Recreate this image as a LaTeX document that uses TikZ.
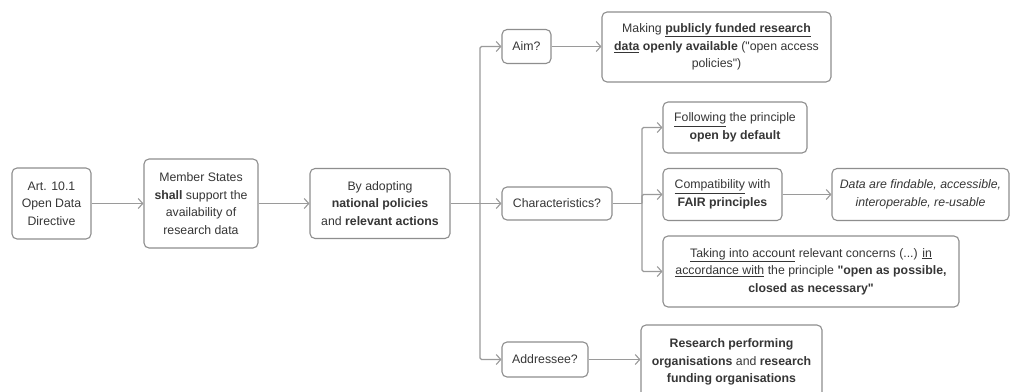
\documentclass[tikz,border=0pt]{standalone}
\usepackage{fontspec}
\setmainfont{Liberation Sans}
\usetikzlibrary{arrows.meta}
\definecolor{bordergray}{HTML}{8E8E8E}
\definecolor{linegray}{HTML}{9A9A9A}
\definecolor{textgray}{HTML}{363636}
\newcommand{\dq}{\textquotedbl}
\begin{document}
\begin{tikzpicture}[x=1pt,y=-1pt,
  box/.style={draw=bordergray, rounded corners=5pt, line width=1.1pt, fill=white,
    align=center, inner sep=0pt, text=textgray,
    font=\fontsize{12.3}{17.5}\selectfont},
  conn/.style={draw=linegray, line width=1.1pt, rounded corners=1.5pt,
    -{Straight Barb[length=4.5pt,width=10pt,line width=1.1pt]}},
  plain/.style={draw=linegray, line width=1.1pt}]
\useasboundingbox (0,0) rectangle (1011,391);
\clip (0,0) rectangle (1011,391);
\fill[white] (0,0) rectangle (1011,391);

\node[box, minimum width=79pt, minimum height=71pt] (art) at (51.5,203.5)
  {Art. 10.1\\Open Data\\Directive};
\node[box, minimum width=114pt, minimum height=89pt] (mem) at (201,203.5)
  {Member States\\\textbf{shall} support the\\availability of\\research data};
\node[box, minimum width=140pt, minimum height=70pt] (adopt) at (380,203.5)
  {By adopting\\\textbf{national policies}\\and \textbf{relevant actions}};

\node[box, minimum width=49pt, minimum height=34pt] (aim) at (526.5,46.5) {Aim?};
\node[box, minimum width=229pt, minimum height=70pt] (making) at (716.5,47)
  {Making \textbf{\underline{publicly funded research}}\\\textbf{\underline{data} openly available} (\dq open access\\policies\dq)};

\node[box, minimum width=110pt, minimum height=33pt] (chars) at (557,203.5) {Characteristics?};

\node[box, minimum width=144pt, minimum height=51pt] (follow) at (735,127.5)
  {\underline{Following} the principle\\\textbf{open by default}};
\node[box, minimum width=119pt, minimum height=52pt] (compat) at (722.5,194.5)
  {\underline{Compatibility} with\\\textbf{FAIR principles}};
\node[box, minimum width=177pt, minimum height=52pt] (data) at (920.5,194.5)
  {\itshape Data are findable, accessible,\\\itshape interoperable, re-usable};
\node[box, minimum width=296pt, minimum height=71pt] (taking) at (811,271.5)
  {\underline{Taking into account} relevant concerns (...) \underline{in}\\\underline{accordance with} the principle \textbf{\dq open as possible,}\\\textbf{closed as necessary\dq}};

\node[box, minimum width=86pt, minimum height=35pt] (addr) at (545,359.5) {Addressee?};
\node[box, minimum width=181pt, minimum height=74pt] (research) at (731.5,362)
  {\textbf{Research performing}\\\textbf{organisations} and \textbf{research}\\\textbf{funding organisations}};

\coordinate (j1) at (480,203.5);
\coordinate (j2) at (642,203.5);

\draw[conn] (art.east) -- (mem.west);
\draw[conn] (mem.east) -- (adopt.west);
\draw[conn] (adopt.east) -- (chars.west);
\draw[conn] (j1) |- (aim.west);
\draw[conn] (j1) |- (addr.west);
\draw[conn] (aim.east) -- (aim.east -| making.west);
\draw[plain] (chars.east) -- (j2);
\draw[conn] (j2) |- (follow.west);
\draw[conn] (j2) |- (compat.west);
\draw[conn] (j2) |- (taking.west);
\draw[conn] (compat.east) -- (data.west);
\draw[conn] (addr.east) -- (addr.east -| research.west);
\end{tikzpicture}
\end{document}
